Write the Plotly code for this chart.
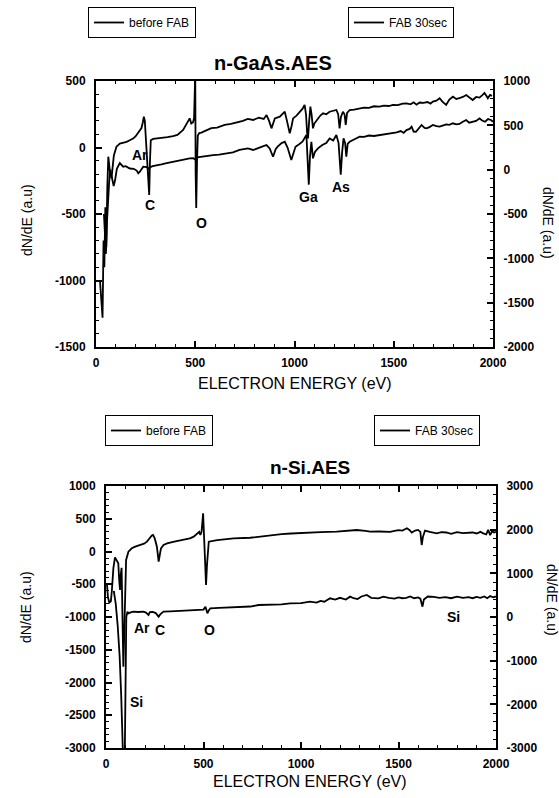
import plotly.graph_objects as go

# ---------------- data ----------------
# Top chart: n-GaAs.AES ; "before FAB" on left axis, "FAB 30sec" on right axis
gaas_before = [
    (20, -1000), (33, -1280), (38, -700), (42, -900), (47, -450), (52, -750), (57, -300), (62, -69),
    (70, -180), (78, -230), (90, -60), (103, 6), (120, 30), (140, 35), (154, 42), (170, 55), (187, 67),
    (200, 85), (212, 107), (222, 130), (229, 146), (236, 190), (241, 232), (246, 200), (252, 60),
    (258, -80), (264, -300), (268, -357), (272, -100), (276, 55), (288, 65), (310, 68), (338, 72),
    (360, 78), (388, 85), (410, 95), (439, 132), (455, 170), (465, 200), (472, 219), (480, 180),
    (489, 190), (494, 220), (498, 480), (500, 560), (502, -200), (505, -455), (509, -100), (513, 90),
    (520, 109), (531, 112), (550, 125), (581, 146), (610, 150), (648, 170), (680, 178), (715, 190),
    (740, 200), (765, 215), (792, 207), (820, 225), (845, 215), (859, 244), (872, 200), (884, 144),
    (893, 190), (901, 219), (926, 232), (940, 250), (951, 269), (962, 200), (976, 107), (985, 160),
    (993, 219), (1010, 240), (1026, 269), (1040, 290), (1051, 320), (1058, 250), (1064, 100),
    (1068, 69), (1074, 200), (1080, 307), (1086, 250), (1093, 144), (1100, 180), (1118, 219),
    (1130, 240), (1144, 257), (1160, 250), (1177, 269), (1195, 275), (1211, 282), (1220, 250),
    (1227, 144), (1234, 230), (1244, 269), (1252, 250), (1258, 170), (1265, 260), (1278, 282),
    (1300, 285), (1328, 294), (1350, 300), (1375, 298), (1400, 310), (1428, 307), (1450, 315),
    (1475, 312), (1496, 320), (1520, 318), (1545, 330), (1564, 332), (1585, 325), (1600, 340),
    (1615, 322), (1630, 338), (1650, 335), (1670, 342), (1685, 330), (1697, 345), (1715, 352),
    (1731, 370), (1745, 345), (1764, 320), (1780, 360), (1798, 382), (1815, 365), (1831, 372),
    (1848, 380), (1865, 395), (1882, 378), (1898, 357), (1915, 380), (1932, 375), (1945, 392),
    (1957, 410), (1968, 385), (1974, 370), (1985, 395), (1995, 388),
]
gaas_fab = [
    (40, -500), (45, -700), (50, -950), (55, -600), (60, -350), (66, -150), (72, 0), (80, -80),
    (89, -185), (96, -120), (105, 10), (120, 75), (137, 34), (150, 40), (170, 13), (190, 10),
    (205, -10), (213, -40), (221, -23), (238, 34), (255, 30), (265, 10), (271, 25), (285, 40),
    (305, 52), (330, 60), (350, 70), (370, 80), (388, 90), (410, 100), (430, 105), (450, 115),
    (472, 127), (490, 130), (498, 120), (503, 110), (510, 140), (522, 145), (545, 150), (570, 160),
    (590, 165), (620, 170), (656, 183), (690, 195), (723, 222), (750, 230), (765, 240), (792, 222),
    (810, 240), (830, 255), (859, 278), (875, 240), (892, 146), (905, 230), (915, 259), (935, 300),
    (951, 315), (965, 250), (984, 109), (995, 200), (1005, 259), (1025, 290), (1040, 315),
    (1060, 391), (1066, 100), (1072, -169), (1078, 150), (1085, 315), (1093, 128), (1103, 200),
    (1118, 240), (1140, 278), (1160, 300), (1177, 353), (1195, 330), (1211, 391), (1222, 300),
    (1233, -56), (1240, 200), (1247, 353), (1255, 300), (1261, 146), (1268, 290), (1278, 315),
    (1300, 340), (1328, 372), (1350, 370), (1375, 385), (1400, 380), (1428, 391), (1450, 395),
    (1475, 402), (1496, 410), (1515, 420), (1535, 435), (1550, 415), (1564, 447), (1580, 460),
    (1590, 485), (1600, 430), (1612, 428), (1625, 470), (1640, 504), (1655, 470), (1665, 466),
    (1680, 480), (1697, 504), (1715, 490), (1731, 485), (1750, 500), (1764, 510), (1780, 505),
    (1798, 523), (1815, 510), (1831, 515), (1848, 540), (1865, 560), (1880, 530), (1898, 540),
    (1915, 550), (1932, 579), (1945, 555), (1960, 540), (1975, 570), (1990, 560), (2000, 540),
]

# Bottom chart: n-Si.AES
si_before = [
    (5, -500), (10, -700), (17, -780), (25, -760), (30, -600), (38, -250), (46, -90), (55, -150),
    (63, -180), (68, -450), (72, -588), (76, -350), (80, -250), (84, -900), (89, -1760), (94, -1200),
    (98, -500), (103, -130), (115, -3), (132, 49), (150, 75), (175, 99), (195, 120), (210, 150),
    (220, 190), (227, 226), (235, 245), (241, 252), (250, 200), (261, 74), (266, -80), (270, -156),
    (276, -50), (282, 48), (295, 100), (313, 125), (350, 150), (398, 175), (430, 200), (450, 226),
    (470, 278), (478, 300), (484, 252), (490, 300), (498, 583), (502, 300), (505, 100), (510, -300),
    (513, -512), (518, -200), (527, 150), (570, 175), (655, 200), (739, 210), (783, 226), (841, 252),
    (900, 265), (950, 275), (1012, 287), (1100, 295), (1183, 303), (1230, 310), (1286, 328),
    (1330, 315), (1354, 303), (1400, 305), (1457, 300), (1480, 315), (1500, 325), (1520, 320),
    (1543, 354), (1556, 330), (1568, 290), (1585, 320), (1600, 330), (1612, 300), (1619, 99),
    (1625, 220), (1636, 320), (1660, 300), (1680, 285), (1696, 277), (1720, 295), (1745, 290),
    (1770, 270), (1800, 295), (1830, 280), (1860, 285), (1880, 290), (1901, 275), (1920, 300),
    (1935, 277), (1950, 260), (1960, 330), (1970, 250), (1980, 310), (1990, 290), (2000, 300),
]
si_fab = [
    (40, 600), (50, 300), (60, -200), (70, -900), (78, -1800), (84, -2800), (88, -3300), (96, -3300),
    (100, -1500), (104, 0), (110, 122), (115, 85), (130, 110), (141, 122), (165, 115), (192, 122),
    (205, 100), (212, 60), (218, 46), (225, 110), (240, 115), (255, 90), (263, 40), (270, 7),
    (278, 60), (295, 122), (330, 130), (370, 140), (400, 150), (433, 160), (470, 165), (500, 170),
    (510, 237), (515, 160), (520, 85), (527, 150), (535, 200), (580, 210), (630, 220), (700, 237),
    (740, 240), (783, 275), (841, 275), (900, 290), (944, 313), (1000, 320), (1046, 351),
    (1080, 330), (1100, 370), (1120, 350), (1149, 428), (1175, 400), (1200, 440), (1230, 400),
    (1252, 466), (1270, 430), (1290, 410), (1310, 470), (1337, 504), (1360, 440), (1397, 428),
    (1423, 466), (1450, 440), (1480, 420), (1500, 450), (1520, 430), (1540, 440), (1560, 470),
    (1580, 430), (1600, 450), (1612, 420), (1623, 237), (1630, 400), (1650, 470), (1680, 460),
    (1710, 440), (1740, 455), (1770, 430), (1800, 465), (1830, 440), (1860, 455), (1880, 430),
    (1900, 460), (1920, 440), (1940, 470), (1955, 430), (1970, 480), (1985, 450), (2000, 470),
]

x_ticks = [0, 500, 1000, 1500, 2000]
gaas_left_ticks = [-1500, -1000, -500, 0, 500]
gaas_right_ticks = [-2000, -1500, -1000, -500, 0, 500, 1000]
si_left_ticks = [-3000, -2500, -2000, -1500, -1000, -500, 0, 500, 1000]
si_right_ticks = [-3000, -2000, -1000, 0, 1000, 2000, 3000]

# peak labels: (text, energy, value on left axis)
gaas_labels = [("Ar", 222, -57), ("C", 272, -432), ("O", 532, -568), ("Ga", 1071, -370), ("As", 1236, -295)]
si_labels = [("Si", 154, -2293), ("Ar", 186, -1168), ("C", 277, -1199), ("O", 529, -1199), ("Si", 1780, -995)]

# ---------------- figure ----------------
FONT = "Liberation Sans, Arial, sans-serif"
fig = go.Figure()

def xs(d):
    return [p[0] for p in d]

def ys(d):
    return [p[1] for p in d]

line = dict(color="black", width=1.8)
fig.add_trace(go.Scatter(x=xs(gaas_before), y=ys(gaas_before), mode="lines", line=line,
                         name="before FAB", xaxis="x", yaxis="y", legend="legend"))
fig.add_trace(go.Scatter(x=xs(gaas_fab), y=ys(gaas_fab), mode="lines", line=line,
                         name="FAB 30sec", xaxis="x", yaxis="y2", legend="legend2"))
fig.add_trace(go.Scatter(x=xs(si_before), y=ys(si_before), mode="lines", line=line,
                         name="before FAB", xaxis="x2", yaxis="y3", legend="legend3"))
fig.add_trace(go.Scatter(x=xs(si_fab), y=ys(si_fab), mode="lines", line=line,
                         name="FAB 30sec", xaxis="x2", yaxis="y4", legend="legend4"))

W, H = 559, 798
tickfont = dict(family=FONT, size=12, color="black", weight=700)

def lab(v):
    return "<b>%s</b>" % v

def xax(domain, anchor):
    return dict(domain=domain, anchor=anchor, range=[0, 2000], tickvals=x_ticks,
                ticktext=[lab(v) for v in x_ticks], ticks="inside", ticklen=6, tickwidth=1.5,
                minor=dict(dtick=100, tick0=0, ticks="inside", ticklen=3, tickwidth=1.2, tickcolor="black"),
                showline=True, linewidth=2, linecolor="black", mirror="ticks", showgrid=False,
                zeroline=False, tickfont=tickfont, tickcolor="black", ticklabelstandoff=4,
                automargin=False)

def yax(domain, anchor, rng, tv, minor, side="left", overlay=None):
    d = dict(domain=domain, anchor=anchor, range=rng, tickvals=tv, ticktext=[lab(v) for v in tv],
             ticks="inside", ticklen=6, tickwidth=1.5,
             minor=dict(dtick=minor, tick0=0, ticks="inside", ticklen=3, tickwidth=1.2, tickcolor="black"),
             showline=True, linewidth=2, linecolor="black", showgrid=False, zeroline=False,
             tickfont=tickfont, tickcolor="black", side=side, ticklabelstandoff=6, automargin=False)
    if overlay:
        d["overlaying"] = overlay
    return d

top_dom_x = [96 / W, 493 / W]
top_dom_y = [1 - 347 / H, 1 - 81 / H]
bot_dom_x = [106 / W, 496 / W]
bot_dom_y = [1 - 748 / H, 1 - 486 / H]

legend_common = dict(bordercolor="black", borderwidth=1, bgcolor="white",
                     font=dict(family=FONT, size=12, color="black"),
                     xanchor="left", yanchor="top", itemwidth=30, tracegroupgap=0)

fig.update_layout(
    width=W, height=H, margin=dict(l=0, r=0, t=0, b=0), autosize=False,
    paper_bgcolor="white", plot_bgcolor="white",
    xaxis=xax(top_dom_x, "y"),
    yaxis=yax(top_dom_y, "x", [-1500, 500], gaas_left_ticks, 100),
    yaxis2=yax(top_dom_y, "x", [-2000, 1000], gaas_right_ticks, 100, side="right", overlay="y"),
    xaxis2=xax(bot_dom_x, "y3"),
    yaxis3=yax(bot_dom_y, "x2", [-3000, 1000], si_left_ticks, 100),
    yaxis4=yax(bot_dom_y, "x2", [-3000, 3000], si_right_ticks, 200, side="right", overlay="y3"),
    legend=dict(legend_common, x=88 / W, y=1 - 7 / H),
    legend2=dict(legend_common, x=348 / W, y=1 - 7 / H),
    legend3=dict(legend_common, x=105 / W, y=1 - 415 / H),
    legend4=dict(legend_common, x=374 / W, y=1 - 415 / H),
    showlegend=True,
)

ann = []

def pa(text, xp, yp, size, ang=0):
    return dict(text=text, x=xp / W, y=1 - yp / H, xref="paper", yref="paper",
                xanchor="center", yanchor="middle", showarrow=False, textangle=ang,
                font=dict(family=FONT, size=size, color="black"))

# chart titles
ann.append(pa("<b>n-GaAs.AES</b>", 273, 63, 20))
ann.append(pa("<b>n-Si.AES</b>", 310, 467, 19))
# x-axis titles
ann.append(pa("ELECTRON ENERGY (eV)", 295, 383, 16))
ann.append(pa("ELECTRON ENERGY (eV)", 310, 781, 16))
# y-axis titles
ann.append(pa("dN/dE (a.u)", 27, 220, 14, -90))
ann.append(pa("dN/dE (a.u)", 548, 223, 14, 90))
ann.append(pa("dN/dE (a.u)", 26, 607, 14, -90))
ann.append(pa("dN/dE (a.u)", 552, 600, 14, 90))
# peak labels
for t, xv, yv in gaas_labels:
    ann.append(dict(text="<b>%s</b>" % t, x=xv, y=yv, xref="x", yref="y", showarrow=False,
                    xanchor="center", yanchor="middle",
                    font=dict(family=FONT, size=14, color="black")))
for t, xv, yv in si_labels:
    ann.append(dict(text="<b>%s</b>" % t, x=xv, y=yv, xref="x2", yref="y3", showarrow=False,
                    xanchor="center", yanchor="middle",
                    font=dict(family=FONT, size=14, color="black")))
fig.update_layout(annotations=ann)

fig.write_html("out.html")
